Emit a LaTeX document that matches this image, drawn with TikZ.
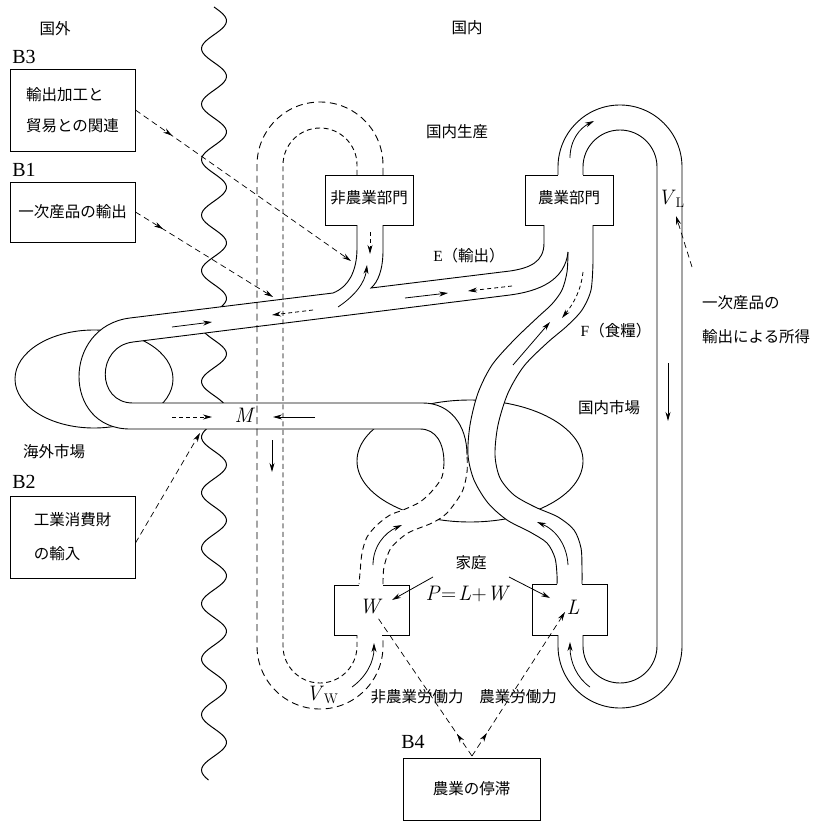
\documentclass[tikz,border=0pt]{standalone}
\usepackage{fontspec}
\newfontfamily\jp{Noto Sans CJK JP}
\newfontfamily\tms{Liberation Serif}
\usetikzlibrary{arrows.meta,decorations.markings}
\newcommand{\vsub}[2]{\textit{#1}\raisebox{-3.5pt}{\fontsize{14}{14}\selectfont #2}}
\begin{document}
\begin{tikzpicture}[x=1pt,y=-1pt,
  wall/.style={line width=0.9pt},
  dwall/.style={line width=0.9pt, dash pattern=on 6pt off 4pt},
  arr/.style={line width=0.8pt,-{Stealth[length=9pt,width=5pt]}},
  darr/.style={line width=0.8pt,dash pattern=on 4pt off 3pt,-{Stealth[length=9pt,width=5pt]}},
  jptext/.style={font=\jp\fontsize{15.5}{18}\selectfont, inner sep=0pt},
  mathlbl/.style={font=\rmfamily\fontsize{21}{24}\selectfont, inner sep=0pt},
  blabel/.style={font=\tms\fontsize{20}{22}\selectfont, inner sep=0pt},
  bbox/.style={draw, line width=0.9pt, inner sep=0pt},
  conn/.style={line width=0.7pt, dash pattern=on 6pt off 4pt, -{Stealth[length=9pt,width=5pt]}},
  dconn/.style={line width=0.7pt, dash pattern=on 6pt off 4pt},
]
\useasboundingbox (0,0) rectangle (815,821);

% ---------- background shapes ----------
\draw[wall] (94,379) ellipse [x radius=79pt, y radius=49pt];
\draw[wall] (470,461) ellipse [x radius=113pt, y radius=61pt];
\draw[line width=1pt] plot[domain=7:780, samples=320, smooth, variable=\t] ({214+12.5*sin(6.4865*(\t-7))}, \t);

% ---------- tube fills ----------
\fill[white] (357,225) -- (357,248) .. controls (357,272) and (348,287) .. (333,293) -- (130,318)
  .. controls (62,326.4) and (62,429) .. (130,429) -- (420,429) .. controls (436,429) and (444,443) .. (444,463)
  -- plot[smooth] coordinates {(444,463)(442,477)(433,490)(420,502)(403,510)(390,515)(377,525)(367,537)(362,553)(360,573)(359,584)}
  -- plot[smooth] coordinates {(383,584)(384,567)(391,548)(408,533)(432,523)(447,513)(462,492)(467,472)(467,455)}
  .. controls (467,425) and (450,403) .. (423,403) -- (133,403) .. controls (96,403) and (96,346.6) .. (133,342)
  -- (510,295) .. controls (540,291) and (565,280) .. (568,252) -- (568,225) -- (544,225) -- (544,243)
  .. controls (544,262) and (530,268) .. (510,271) -- (371,288) .. controls (378,282) and (383,270) .. (383,250)
  -- (383,225) -- cycle;
\fill[white] plot[smooth] coordinates {(568,252)(567,272)(562,290)(552,304)(538,317)(514,340)(492,365)(478,393)(470,425)(468,455)(474,480)(488,503)(507,520)(530,532)(547,543)(555,558)(557,575)(557,584)}
  -- plot[smooth] coordinates {(582,584)(582,570)(581,548)(574,530)(558,517)(535,507)(514,495)(500,478)(495,455)(498,425)(508,393)(524,366)(547,343)(567,326)(582,310)(591,290)(593,262)}
  -- (593,225) -- (568,225) -- cycle;

% ---------- tube walls ----------
\draw[wall] (357,225) -- (357,248) .. controls (357,272) and (348,287) .. (333,293) -- (130,318)
  .. controls (62,326.4) and (62,429) .. (130,429) -- (420,429) .. controls (436,429) and (444,443) .. (444,463);
\draw[wall] (383,225) -- (383,250) .. controls (383,270) and (378,282) .. (371,288) -- (510,271)
  .. controls (530,268) and (544,262) .. (544,243) -- (544,225);
\draw[wall] (568,252) .. controls (565,280) and (540,291) .. (510,295) -- (133,342)
  .. controls (96,346.6) and (96,403) .. (133,403) -- (423,403) .. controls (450,403) and (467,425) .. (467,455);
\draw[wall] plot[smooth] coordinates {(568,252)(567,272)(562,290)(552,304)(538,317)(514,340)(492,365)(478,393)(470,425)(468,455)(474,480)(488,503)(507,520)(530,532)(547,543)(555,558)(557,575)(557,584)};
\draw[wall] plot[smooth] coordinates {(582,584)(582,570)(581,548)(574,530)(558,517)(535,507)(514,495)(500,478)(495,455)(498,425)(508,393)(524,366)(547,343)(567,326)(582,310)(591,290)(593,262)} -- (593,225);
\draw[dwall] plot[smooth] coordinates {(444,463)(442,477)(433,490)(420,502)(403,510)(390,515)(377,525)(367,537)(362,553)(360,573)(359,584)};
\draw[dwall] plot[smooth] coordinates {(383,584)(384,567)(391,548)(408,533)(432,523)(447,513)(462,492)(467,472)(467,455)};

% V_L loop
\draw[wall] (558,175) -- (558,167) .. controls (558,132.8) and (585.8,105) .. (620,105)
  .. controls (654.2,105) and (682,132.8) .. (682,167) -- (682,646)
  .. controls (682,680.2) and (654.2,708) .. (620,708) .. controls (585.8,708) and (558,680.2) .. (558,646) -- (558,635);
\draw[wall] (583,175) -- (583,167) .. controls (583,146.6) and (599.6,130) .. (620,130)
  .. controls (640.4,130) and (657,146.6) .. (657,167) -- (657,646)
  .. controls (657,666.4) and (640.4,683) .. (620,683) .. controls (599.6,683) and (583,666.4) .. (583,646) -- (583,635);

% V_W dashed loop
\draw[line width=0.9pt, dash pattern=on 5pt off 3.5pt] (357,175) -- (357,165) .. controls (357,144.6) and (340.4,128) .. (320,128)
  .. controls (299.6,128) and (283,144.6) .. (283,165) -- (283,646)
  .. controls (283,666.4) and (299.6,683) .. (320,683) .. controls (340.4,683) and (357,666.4) .. (357,646) -- (357,635);
\draw[line width=0.9pt, dash pattern=on 7pt off 4.5pt] (383,175) -- (383,165) .. controls (383,130.2) and (354.8,102) .. (320,102)
  .. controls (285.2,102) and (257,130.2) .. (257,165) -- (257,646)
  .. controls (257,680.8) and (285.2,709) .. (320,709) .. controls (354.8,709) and (383,680.8) .. (383,646) -- (383,635);

% ---------- boxes ----------
\draw[wall] (357,225) -- (325,225) -- (325,175) -- (413,175) -- (413,225) -- (383,225);
\draw[wall] (558,175) -- (525,175) -- (525,225) -- (544,225);
\draw[wall] (593,225) -- (613,225) -- (613,175) -- (583,175);
\draw[wall] (359,585) -- (334,585) -- (334,635) -- (357,635);
\draw[wall] (382,635) -- (409,635) -- (409,585) -- (383,585);
\draw[wall] (557,584) -- (532,584) -- (532,635) -- (558,635);
\draw[wall] (583,635) -- (607,635) -- (607,584) -- (582,584);

\node[jptext] (nonagri) at (369,198) {非農業部門};
\node[jptext] (agri) at (569,198) {農業部門};

\node[bbox, jptext, minimum width=125pt, minimum height=82pt, align=left] (b3) at (72.5,110) {輸出加工と\\[13pt]貿易との関連};
\node[bbox, jptext, minimum width=125pt, minimum height=60pt] (b1) at (72.5,212) {一次産品の輸出};
\node[bbox, jptext, minimum width=125pt, minimum height=82pt, align=left] (b2) at (72.5,537) {工業消費財\\[16pt]の輸入};
\node[bbox, jptext, minimum width=137pt, minimum height=62pt] (b4) at (471.5,789) {農業の停滞};

\node[blabel] (lb3) at (24,57) {B3};
\node[blabel] (lb1) at (24,170) {B1};
\node[blabel] (lb2) at (24,482) {B2};
\node[blabel] (lb4) at (413,742) {B4};

% ---------- labels ----------
\node[jptext] (kokugai) at (55,29) {国外};
\node[jptext] (kokunai) at (467,28) {国内};
\node[jptext] (seisan) at (457,132) {国内生産};
\node[jptext] (shijo) at (609,408) {国内市場};
\node[jptext] (kaigai) at (54,452) {海外市場};
\node[jptext, anchor=west] (inc1) at (702,303) {一次産品の};
\node[jptext, anchor=west] (inc2) at (702,337) {輸出による所得};
\node[jptext] (elbl) at (469,256) {{\tms E}（輸出）};
\node[jptext] (flbl) at (616,331) {{\tms F}（食糧）};
\node[jptext] (katei) at (471,563) {家庭};
\node[mathlbl] (plw) at (468,594) {\textit{P}\kern0.5pt=\kern2pt\textit{L}\kern0.5pt+\kern0.5pt\textit{W}};
\node[mathlbl] (wl) at (371,607) {\textit{W}};
\node[mathlbl] (ll) at (573,607) {\textit{L}};
\node[mathlbl] (ml) at (245,415) {\textit{M}};
\node[mathlbl] (vl) at (671,199) {\vsub{V}{L}};
\node[mathlbl] (vw) at (322,695) {\vsub{V}{W}};
\node[jptext] (nlab) at (417,697) {非農業労働力};
\node[jptext] (alab) at (518,697) {農業労働力};

% ---------- flow arrows ----------
\draw[arr] (172,327) -- (212,322);
\draw[darr] (313,310) -- (272,315);
\draw[darr] (172,417) -- (212,417);
\draw[arr] (315,417) -- (273,417);
\draw[arr] (272,440) -- (272,472);
\draw[arr] (338,307) .. controls (356,295) and (365,282) .. (367,265);
\draw[darr] (370,232) -- (370,254);
\draw[arr] (405,298) -- (448,293);
\draw[darr] (512,286) -- (468,291);
\draw[darr] (583,272) .. controls (581,290) and (574,303) .. (562,318);
\draw[arr] (513,365) -- (550,322);
\draw[arr] (570,158) .. controls (570,140) and (580,128) .. (594,121);
\draw[arr] (668,363) -- (668,421);
\draw[arr] (590,687) .. controls (577,678) and (570,662) .. (570,642);
\draw[arr] (568,565) .. controls (567,545) and (556,530) .. (537,522);
\draw[arr] (373,565) .. controls (373,547) and (384,533) .. (402,525);
\draw[arr] (352,687) .. controls (366,677) and (374,662) .. (374,643);
\coordinate (hA) at (433,577); \coordinate (hB) at (509,577);
\coordinate (wT) at (392,600); \coordinate (lT) at (550,598);
\draw[arr] (hA) -- (wT);
\draw[arr] (hB) -- (lT);

% ---------- dashed connectors ----------
\coordinate (b3end) at (351,261);
\coordinate (b1end) at (273,297);
\coordinate (b2end) at (200,433);
\coordinate (incS) at (692,267);
\coordinate (incE) at (676,216);
\coordinate (vpt) at (472,756);
\coordinate (wS) at (378,618);
\coordinate (lE) at (565,612);
\draw[conn, postaction={decorate}, decoration={markings, mark=at position 0.17 with {\arrow{Stealth[length=9pt,width=5pt]}}}] (b3.east) -- (b3end);
\draw[conn, postaction={decorate}, decoration={markings, mark=at position 0.2 with {\arrow{Stealth[length=9pt,width=5pt]}}}] (b1.east) -- (b1end);
\draw[conn] ([yshift=-6pt]b2.east) -- (b2end);
\draw[conn] (incS) -- (incE);
\draw[dconn, postaction={decorate}, decoration={markings, mark=at position 0.16 with {\arrow{Stealth[length=9pt,width=5pt]}}}] (vpt) -- (wS);
\draw[conn, postaction={decorate}, decoration={markings, mark=at position 0.16 with {\arrow{Stealth[length=9pt,width=5pt]}}}] (vpt) -- (lE);
\end{tikzpicture}
\end{document}
